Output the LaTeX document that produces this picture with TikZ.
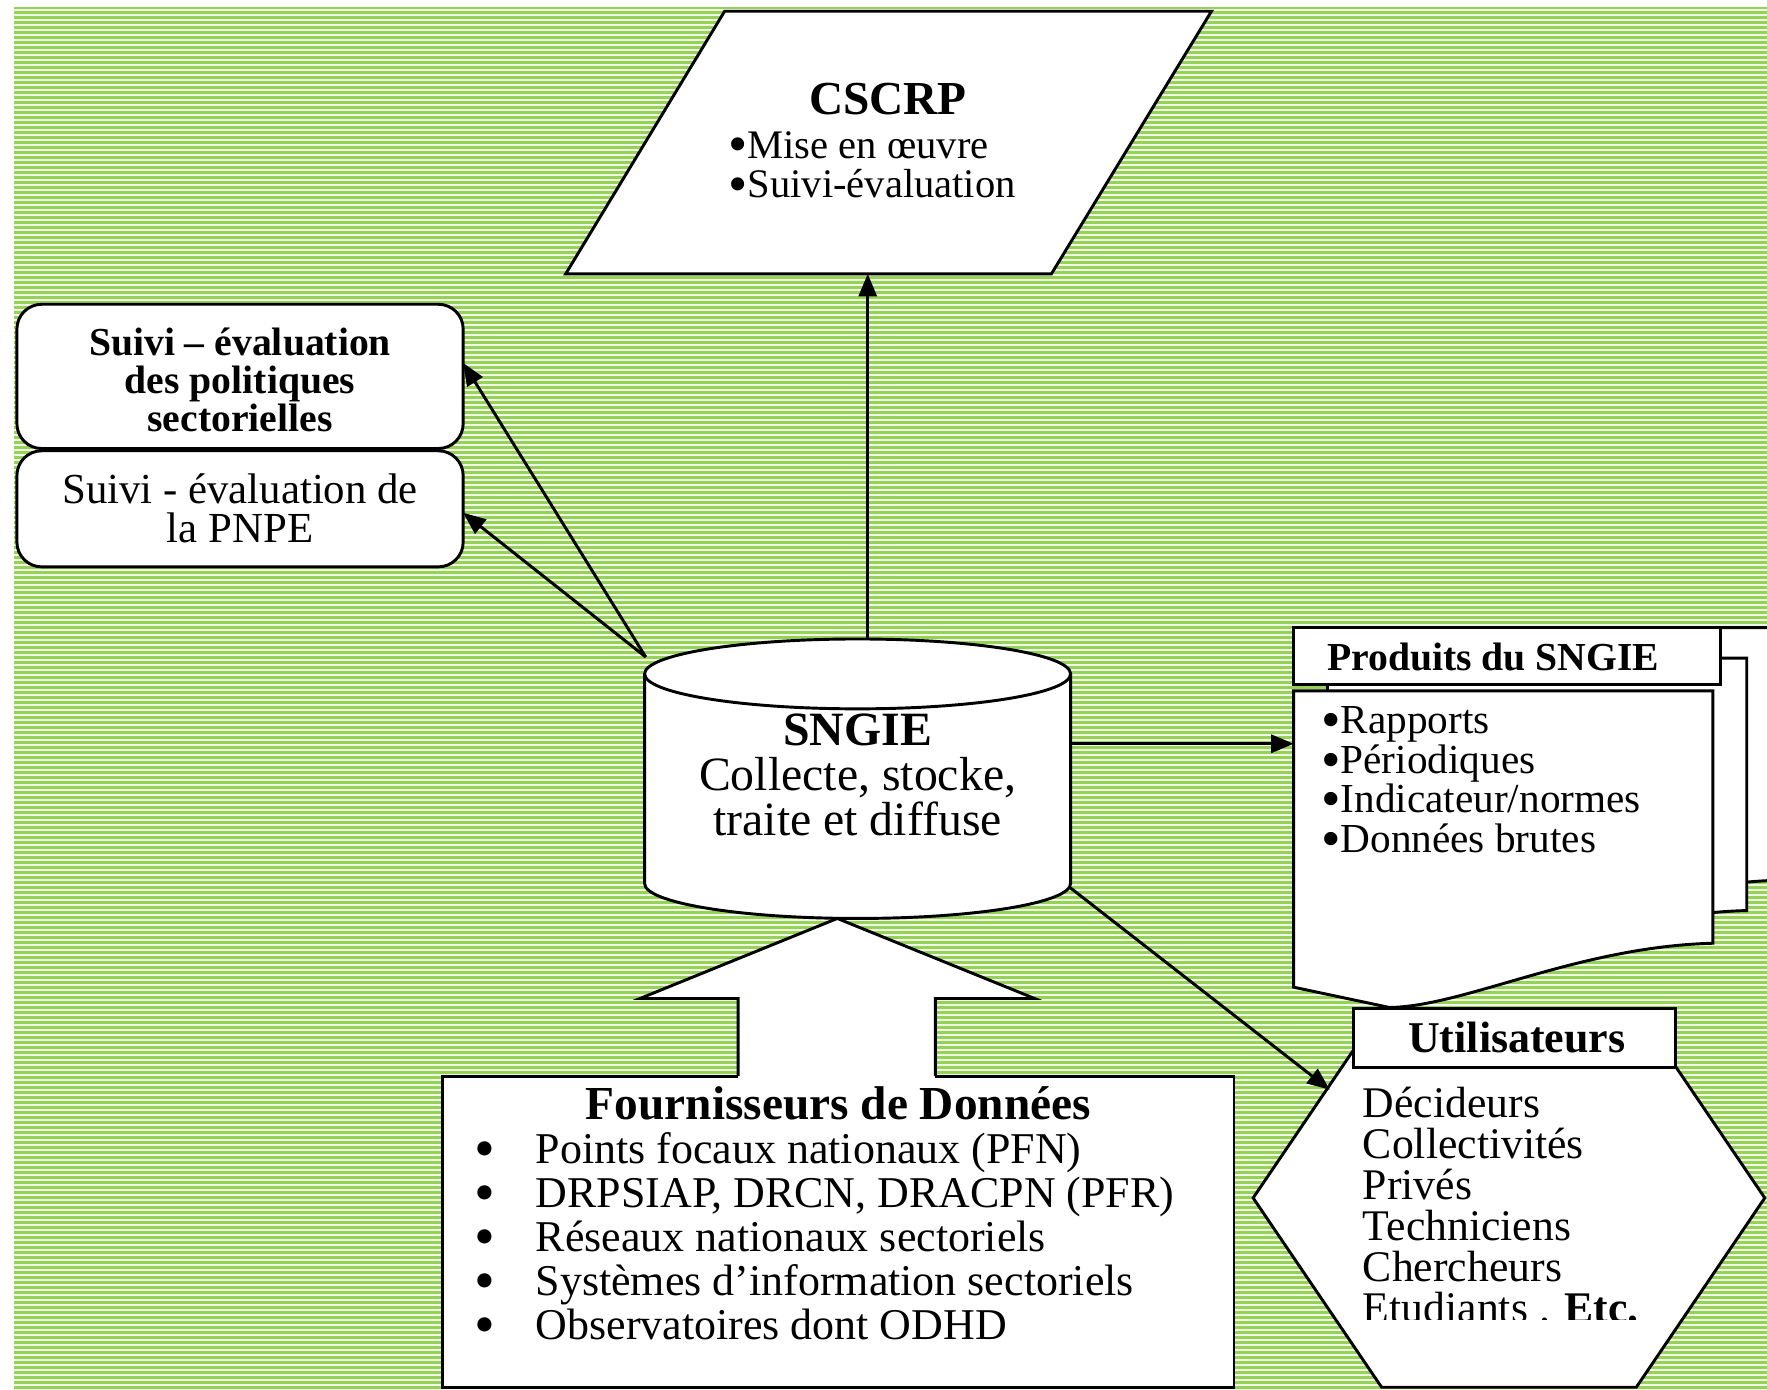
\documentclass[tikz,border=0pt]{standalone}
\usepackage{fontspec}
\usepackage{graphicx}
\setmainfont{Liberation Serif}
\usetikzlibrary{arrows.meta}
\definecolor{bggreen}{RGB}{150,210,85}
\definecolor{bgline}{RGB}{240,248,232}
\newcommand\mybul{\smash{\raisebox{-0.12em}{\scalebox{1.35}{•}}}}
\newcommand\mydocpage{\draw[shp] (1148,613) -- (1520,613) -- (1520,837) .. controls (1400,840) and (1300,893) .. (1233,894) -- (1148,876) -- cycle;}
\begin{document}
\begin{tikzpicture}[x=0.5pt,y=-0.5pt,
  shp/.style={draw=black, fill=white, line width=1.3pt, line join=miter},
  conn/.style={line width=1.3pt, -{Triangle[length=10pt,width=8pt]}},
  txt/.style={inner sep=0pt, text=black},
]
\useasboundingbox (0,0) rectangle (1568,1233);
\clip (0,0) rectangle (1568,1233);
\fill[white] (0,0) rectangle (1568,1233);
\fill[bggreen] (12,6) rectangle (1568,1233);
\foreach \i in {0,...,276} {
  \draw[bgline, line width=0.95pt] (12,{8.5+\i*4.437}) -- (1568,{8.5+\i*4.437});
}

% CSCRP parallelogram
\draw[shp] (643,10) -- (1075,10) -- (933,243) -- (502,243) -- cycle;
\coordinate (cscrpB) at (770,243);

% rounded boxes
\draw[shp, rounded corners=11pt] (15,270) rectangle (411,398);
\draw[shp, rounded corners=11pt] (15,400) rectangle (411,503);
\coordinate (r1E) at (411,322);
\coordinate (r2E) at (411,455);

% cylinder
\fill[white] (572,598) rectangle (950,784);
\fill[white] (761,784) ellipse [x radius=189, y radius=31];
\fill[white] (761,598) ellipse [x radius=189, y radius=31];
\draw[line width=1.3pt] (761,598) ellipse [x radius=189, y radius=31];
\draw[line width=1.3pt] (572,598) -- (572,784) arc[start angle=180, end angle=0, x radius=189, y radius=31] -- (950,598);
\coordinate (cylT) at (770,567);
\coordinate (cylTL) at (573,583);
\coordinate (cylR) at (950,660);
\coordinate (cylBR) at (950,788);

% data providers box and block arrow
\draw[shp] (655,955) -- (393,955) -- (393,1231) -- (1095,1231) -- (1095,955) -- (830,955);
\draw[shp] (655,955) -- (655,886) -- (568,886) -- (743,815) -- (918,886) -- (830,886) -- (830,955);

% document stack
\begin{scope}[shift={(60,-56)}]\mydocpage\end{scope}
\begin{scope}[shift={(30,-29)}]\mydocpage\end{scope}
\mydocpage
\draw[shp] (1148,557) rectangle (1527,607);
\coordinate (docW) at (1148,660);

% hexagon
\draw[shp] (1112,1063) -- (1226,895) -- (1452,895) -- (1566,1063) -- (1452,1231) -- (1226,1231) -- cycle;
\draw[shp] (1201,895) rectangle (1487,947);
\coordinate (hexW) at (1180,967);

% connectors
\draw[conn] (cylT) -- (cscrpB);
\draw[conn] (cylTL) -- (r1E);
\draw[conn] (cylTL) -- (r2E);
\draw[conn] (cylR) -- (docW);
\draw[conn] (cylBR) -- (hexW);

% texts
\node[txt, font={\fontsize{21}{21}\selectfont\bfseries}] (cscrpT) at (788,88) {CSCRP};
\node[txt, anchor=west, align=left, font={\fontsize{18}{17.5}\selectfont}] (cscrpL) at (646,146) {\mybul Mise en œuvre\\\mybul Suivi-évaluation};
\node[txt, align=center, font={\fontsize{17.6}{16.75}\selectfont\bfseries}] (r1T) at (213,337) {Suivi – évaluation\\des politiques\\sectorielles};
\node[txt, align=center, font={\fontsize{19}{17.2}\selectfont}] (r2T) at (213,451) {Suivi - évaluation de\\la PNPE};
\node[txt, align=center, font={\fontsize{21.2}{20}\selectfont}] (sngieT) at (761,688) {\textbf{SNGIE}\\Collecte, stocke,\\traite et diffuse};
\node[txt, font={\fontsize{17.6}{17.6}\selectfont\bfseries}] (prodT) at (1325,583) {Produits du SNGIE};
\node[txt, anchor=west, align=left, font={\fontsize{18.3}{17.5}\selectfont}] (prodL) at (1172,692) {\mybul Rapports\\\mybul Périodiques\\\mybul Indicateur/normes\\\mybul Données brutes};
\node[txt, font={\fontsize{19.5}{19.5}\selectfont\bfseries}] (userT) at (1346,921) {Utilisateurs};
\begin{scope}
\clip (1100,900) rectangle (1568,1171);
\node[txt, anchor=west, align=left, font={\fontsize{19.4}{18.2}\selectfont}] (userL) at (1209,1069) {Décideurs\\Collectivités\\Privés\\Techniciens\\Chercheurs\\Etudiants . \textbf{Etc.}};
\end{scope}
\node[txt, font={\fontsize{21}{21}\selectfont\bfseries}] (fournT) at (744,979) {Fournisseurs de Données};
\node[txt, anchor=west, align=left, font={\fontsize{19.5}{19.5}\selectfont}] (fournL) at (421,1097) {\makebox[27pt][l]{\mybul}Points focaux nationaux (PFN)\\\makebox[27pt][l]{\mybul}DRPSIAP, DRCN, DRACPN (PFR)\\\makebox[27pt][l]{\mybul}Réseaux nationaux sectoriels\\\makebox[27pt][l]{\mybul}Systèmes d’information sectoriels\\\makebox[27pt][l]{\mybul}Observatoires dont ODHD};
\end{tikzpicture}
\end{document}
